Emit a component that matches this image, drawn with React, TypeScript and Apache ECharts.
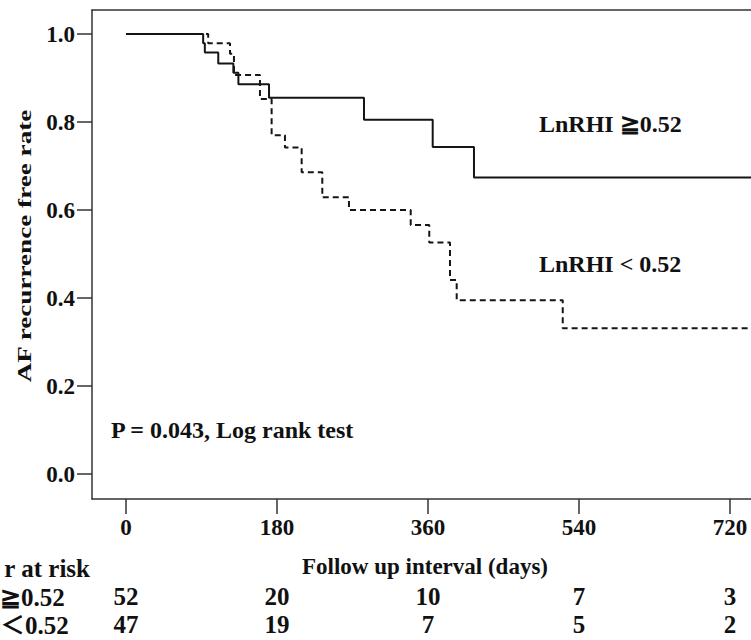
import React, { useEffect, useRef } from "react";
import * as echarts from "echarts";

// Kaplan-Meier step data (days, survival)
const timesHigh = [0, 92, 94, 110, 128, 134, 170.5, 283.7, 365.6, 414.8, 745];
const survHigh = [1, 0.979, 0.958, 0.933, 0.912, 0.886, 0.855, 0.805, 0.743, 0.674, 0.674];
const timesLow = [0, 98, 124, 128.7, 159.7, 173.6, 189.5, 209.4, 234, 265.8, 339.4, 361.5, 386.2, 394.2, 520.6, 745];
const survLow = [1, 0.979, 0.955, 0.907, 0.852, 0.77, 0.742, 0.686, 0.629, 0.6, 0.566, 0.526, 0.441, 0.395, 0.331, 0.331];

const xTicks = [0, 180, 360, 540, 720];
const yTicks = [0, 0.2, 0.4, 0.6, 0.8, 1.0];
const riskHigh = [52, 20, 10, 7, 3];
const riskLow = [47, 19, 7, 5, 2];

const SERIF = '"Liberation Serif", "Times New Roman", serif';
const X_MIN = -40.5;
const X_MAX = 745;

export default function App() {
  const ref = useRef<HTMLDivElement>(null);
  useEffect(() => {
    document.body.style.margin = "0";
    const chart = echarts.init(ref.current!, null, { renderer: "svg" });
    const riskAxis = (offset: number, values: number[]) => ({
      type: "value",
      gridIndex: 0,
      position: "bottom",
      min: X_MIN,
      max: X_MAX,
      offset,
      axisLine: { show: false },
      axisTick: { show: false },
      splitLine: { show: false },
      axisLabel: {
        customValues: xTicks,
        margin: 0,
        fontFamily: SERIF,
        fontWeight: "bold",
        fontSize: 25,
        color: "#111",
        formatter: (v: number) => String(values[xTicks.indexOf(v)] ?? ""),
      },
    });
    chart.setOption({
      animation: false,
      backgroundColor: "#fff",
      grid: {
        left: 92,
        top: 10,
        right: 0,
        height: 489,
        show: false,
        containLabel: false,
      },
      xAxis: [
        {
          type: "value",
          min: X_MIN,
          max: X_MAX,
          position: "bottom",
          axisLine: { onZero: false, lineStyle: { color: "#333", width: 1.5 } },
          axisTick: { customValues: xTicks, length: 15, inside: false, lineStyle: { color: "#333", width: 1.5 } },
          splitLine: { show: false },
          axisLabel: {
            customValues: xTicks,
            margin: 17,
            fontFamily: SERIF,
            fontWeight: "bold",
            fontSize: 23,
            color: "#111",
          },
        },
        riskAxis(85, riskHigh),
        riskAxis(113, riskLow),
        {
          type: "value",
          min: X_MIN,
          max: X_MAX,
          position: "top",
          axisLine: { show: true, onZero: false, lineStyle: { color: "#333", width: 1.5 } },
          axisTick: { show: false },
          axisLabel: { show: false },
          splitLine: { show: false },
        },
      ],
      yAxis: {
        type: "value",
        min: -25 / 440,
        max: 1 + 24 / 440,
        axisLine: { onZero: false, lineStyle: { color: "#333", width: 1.5 } },
        axisTick: { customValues: yTicks, length: 15, lineStyle: { color: "#333", width: 1.5 } },
        splitLine: { show: false },
        axisLabel: {
          customValues: yTicks,
          margin: 17,
          fontFamily: SERIF,
          fontWeight: "bold",
          fontSize: 23,
          color: "#111",
          formatter: (v: number) => v.toFixed(1),
        },
      },
      series: [
        {
          name: "LnRHI ≧0.52",
          type: "line",
          step: "end",
          xAxisIndex: 0,
          symbol: "none",
          data: timesHigh.map((t, i) => [t, survHigh[i]]),
          lineStyle: { color: "#151515", width: 2, type: "solid" },
        },
        {
          name: "LnRHI < 0.52",
          type: "line",
          step: "end",
          xAxisIndex: 0,
          symbol: "none",
          data: timesLow.map((t, i) => [t, survLow[i]]),
          lineStyle: { color: "#151515", width: 2, type: [6, 4] },
        },
      ],
      graphic: [
        {
          type: "text",
          x: 25,
          y: 246,
          rotation: Math.PI / 2,
          scaleX: 1.43,
          style: {
            text: "AF recurrence free rate",
            font: `bold 19px ${SERIF}`,
            fill: "#111",
            align: "center",
            verticalAlign: "middle",
          },
        },
        {
          type: "text",
          x: 425,
          y: 566,
          style: {
            text: "Follow up interval (days)",
            font: `bold 23px ${SERIF}`,
            fill: "#111",
            align: "center",
            verticalAlign: "middle",
          },
        },
        {
          type: "text",
          x: 539,
          y: 124,
          style: {
            text: "LnRHI ≧0.52",
            font: `bold 24px ${SERIF}`,
            fill: "#111",
            align: "left",
            verticalAlign: "middle",
          },
        },
        {
          type: "text",
          x: 539,
          y: 264,
          style: {
            text: "LnRHI < 0.52",
            font: `bold 24px ${SERIF}`,
            fill: "#111",
            align: "left",
            verticalAlign: "middle",
          },
        },
        {
          type: "text",
          x: 111,
          y: 430,
          style: {
            text: "P = 0.043, Log rank test",
            font: `bold 24px ${SERIF}`,
            fill: "#111",
            align: "left",
            verticalAlign: "middle",
          },
        },
        {
          type: "text",
          x: 90,
          y: 568,
          style: {
            text: "r at risk",
            font: `bold 25px ${SERIF}`,
            fill: "#111",
            align: "right",
            verticalAlign: "middle",
          },
        },
        {
          type: "text",
          x: 0,
          y: 597,
          style: {
            text: "≧0.52",
            font: `bold 25px ${SERIF}`,
            fill: "#111",
            align: "left",
            verticalAlign: "middle",
          },
        },
        {
          type: "text",
          x: 0,
          y: 625,
          style: {
            text: "＜0.52",
            font: `bold 25px ${SERIF}, "Noto Sans CJK JP"`,
            fill: "#111",
            align: "left",
            verticalAlign: "middle",
          },
        },
      ],
    });
    return () => chart.dispose();
  }, []);
  return (
    <div
      ref={ref}
      style={{ position: "fixed", left: 0, top: 0, width: 751, height: 640, background: "#fff" }}
    />
  );
}
